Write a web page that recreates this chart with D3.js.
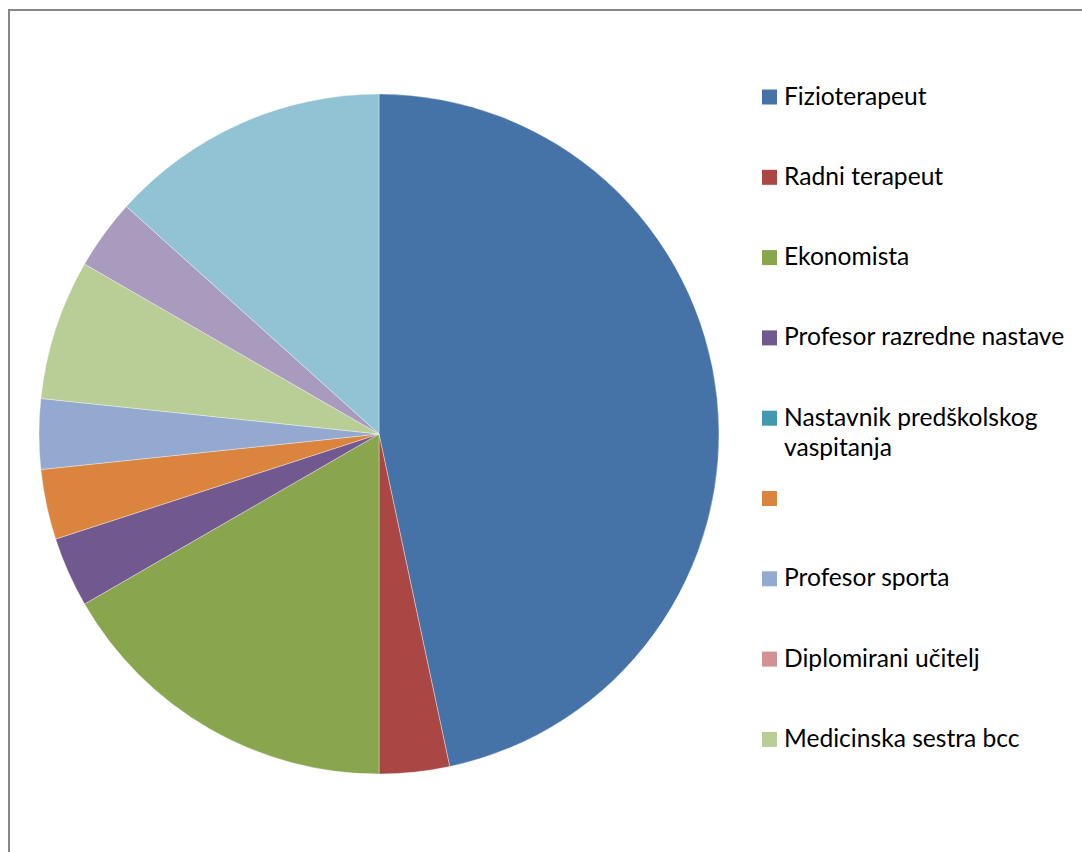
<!DOCTYPE html>
<html>
<head>
<meta charset="utf-8">
<script src="https://cdn.jsdelivr.net/npm/d3@7"></script>
<style>
  html, body { margin: 0; padding: 0; background: #fff; overflow: hidden; }
  svg { display: block; }
</style>
</head>
<body>
<svg id="chart" width="1082" height="852"></svg>
<script>
// ---- data ----
const categories = [
  "Fizioterapeut",
  "Radni terapeut",
  "Ekonomista",
  "Profesor razredne nastave",
  "Nastavnik predškolskog vaspitanja",
  "",
  "Profesor sporta",
  "Diplomirani učitelj",
  "Medicinska sestra bcc",
  "",
  ""
];
const values = [14, 1, 5, 1, 0, 1, 1, 0, 2, 1, 4];
const colors = [
  "#4572A7", "#AA4643", "#89A54E", "#71588F", "#4198AF",
  "#DB843D", "#93A9CF", "#D19392", "#B9CD96", "#A99BBD", "#92C3D4"
];
const legendVisibleCount = 9;

// ---- layout ----
const svg = d3.select("#chart");
const W = 1082, H = 852;
const cx = 379, cy = 434, R = 340;

// chart frame (extends past the visible window)
svg.append("rect")
  .attr("x", 9).attr("y", 10)
  .attr("width", W + 20).attr("height", H + 20)
  .attr("fill", "#fff")
  .attr("stroke", "#878787")
  .attr("stroke-width", 2);

const data = categories.map((c, i) => ({ name: c, value: values[i], color: colors[i] }));

const pie = d3.pie().value(d => d.value).sort(null);
const arc = d3.arc().innerRadius(0).outerRadius(R);

svg.append("g")
  .attr("transform", `translate(${cx},${cy})`)
  .selectAll("path")
  .data(pie(data).filter(d => d.data.value > 0))
  .join("path")
  .attr("d", arc)
  .attr("fill", d => d.data.color)
  .attr("stroke", "rgba(255,255,255,0.6)")
  .attr("stroke-width", 0.6);

// ---- legend ----
const legendX = 762, textX = 784, rowStart = 97, rowStep = 80.3;
const fontFamily = "Lato, 'Open Sans', sans-serif";
const lineGap = 30;
const fontSize = 24.6;

const lg = svg.append("g");

data.slice(0, legendVisibleCount).forEach((d, i) => {
  const yc = rowStart + i * rowStep;
  lg.append("rect")
    .attr("x", legendX).attr("y", yc - 7.5)
    .attr("width", 15).attr("height", 15)
    .attr("fill", d.color);
  const t = lg.append("text")
    .attr("x", textX).attr("y", yc + 7.5)
    .attr("font-family", fontFamily)
    .attr("font-size", fontSize)
    .attr("fill", "#000");
  const words = d.name.split(" ").filter(w => w.length);
  const lines = words.length > 2 && d.name.length > 28
    ? [words.slice(0, 2).join(" "), words.slice(2).join(" ")]
    : [words.join(" ")];
  lines.forEach((ln, k) => {
    t.append("tspan").attr("x", textX).attr("dy", k === 0 ? 0 : lineGap).text(ln);
  });
});
</script>
</body>
</html>
